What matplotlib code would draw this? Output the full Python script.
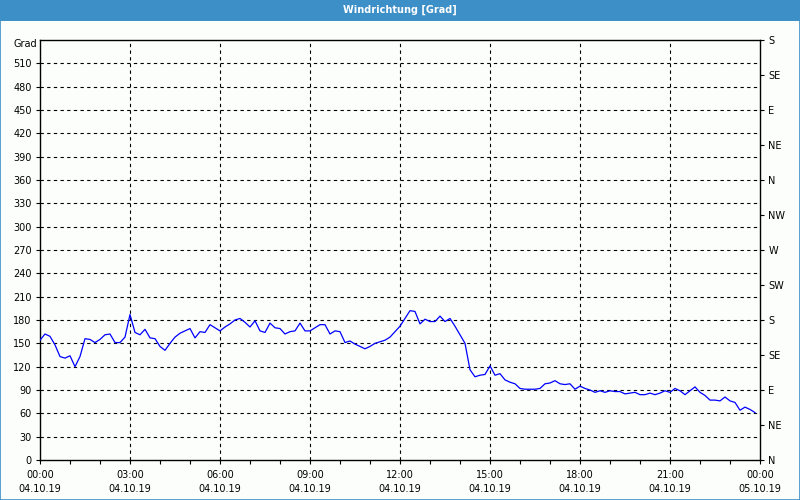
import matplotlib
matplotlib.use("Agg")
import matplotlib.pyplot as plt
from matplotlib.patches import Rectangle
import numpy as np

plt.rcParams['font.family'] = ['DejaVu Sans']

title = "Windrichtung [Grad]"
y_unit = "Grad"

# wind direction, 10-minute samples from 04.10.19 00:00
direction = [
    154, 162, 159, 148, 133, 131, 134, 120, 133, 156,
    155, 151, 155, 161, 162, 151, 151, 158, 187, 164,
    161, 168, 157, 156, 146, 141, 150, 158, 163, 166,
    169, 157, 165, 164, 174, 170, 166, 171, 175, 180,
    182, 177, 171, 179, 166, 164, 176, 170, 169, 162,
    165, 166, 176, 166, 166, 170, 174, 174, 162, 166,
    165, 151, 153, 149, 146, 143, 146, 150, 152, 154,
    158, 165, 172, 182, 192, 191, 175, 181, 178, 178,
    185, 178, 182, 172, 161, 150, 116, 107, 109, 110,
    121, 109, 111, 103, 100, 98, 92, 91, 91, 91,
    92, 98, 99, 102, 98, 97, 98, 91, 95, 92,
    90, 87, 89, 87, 89, 88, 88, 85, 86, 87,
    84, 84, 86, 84, 86, 89, 87, 92, 89, 84,
    89, 94, 87, 83, 77, 77, 76, 81, 76, 74,
    64, 68, 65, 61,
]
sample_minutes = 10
hours = np.arange(len(direction)) * sample_minutes / 60.0

x_tick_hours = [0, 3, 6, 9, 12, 15, 18, 21, 24]
x_tick_labels = ["00:00\n04.10.19", "03:00\n04.10.19", "06:00\n04.10.19",
                 "09:00\n04.10.19", "12:00\n04.10.19", "15:00\n04.10.19",
                 "18:00\n04.10.19", "21:00\n04.10.19", "00:00\n05.10.19"]
left_ticks = list(range(0, 511, 30))
right_ticks = list(range(0, 541, 45))
right_labels = ["N", "NE", "E", "SE", "S", "SW", "W", "NW", "N", "NE", "E", "SE", "S"]

bg = '#FCFEFC'
bar = '#3D8FC8'

fig = plt.figure(figsize=(8, 5), dpi=100, facecolor=bg)
fig.patches.append(Rectangle((0, 1 - 21 / 500), 1, 21 / 500, transform=fig.transFigure,
                             facecolor=bar, edgecolor='none', zorder=0))
fig.patches.append(Rectangle((0.0006, 0.001), 0.9988, 0.998, transform=fig.transFigure,
                             facecolor='none', edgecolor=bar, linewidth=1.2, zorder=5))
fig.text(0.5, 1 - 10 / 500, title, ha='center', va='center', color='white',
         fontsize=7, fontweight='bold')

ax = fig.add_axes([40 / 800, 40 / 500, 720 / 800, 420 / 500])
ax.set_facecolor(bg)
ax.plot(hours, direction, color='#0000FF', lw=0.9, zorder=3)

ax.set_xlim(0, 24)
ax.set_ylim(0, 540)
ax.set_xticks(x_tick_hours)
ax.set_xticklabels(x_tick_labels, fontsize=7, linespacing=1.55)
ax.set_xticks(np.arange(0, 25, 1), minor=True)
ax.set_yticks(left_ticks)
ax.set_yticklabels([str(v) for v in left_ticks], fontsize=7)
ax.tick_params(axis='both', which='both', direction='out', length=3, width=0.8,
               color='black', labelcolor='black', pad=3)
ax.tick_params(axis='x', which='major', pad=4)

for s in ax.spines.values():
    s.set_color('black')
    s.set_linewidth(1.0)

for h in x_tick_hours[1:-1]:
    ax.axvline(h, color='black', lw=0.8, ls=(0, (3, 3)), zorder=1)
for v in list(range(30, 511, 30)):
    ax.axhline(v, color='black', lw=0.8, ls=(0, (3, 3)), zorder=1)

ax2 = ax.twinx()
ax2.set_ylim(0, 540)
ax2.set_yticks(right_ticks)
ax2.set_yticklabels(right_labels, fontsize=7)
ax2.tick_params(axis='y', direction='out', length=3, width=0.8, pad=3)
for s in ax2.spines.values():
    s.set_visible(False)

fig.text(37 / 800, 1 - 44 / 500, y_unit, ha='right', va='center', fontsize=7)

fig.savefig('out.png', dpi=100, facecolor=bg)
